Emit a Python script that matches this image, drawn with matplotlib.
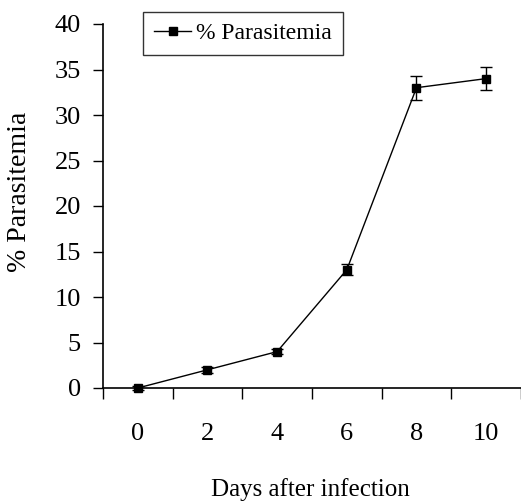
import numpy as np
import matplotlib.pyplot as plt

# Days after infection and mean parasitemia (%) with error
days = [0, 2, 4, 6, 8, 10]
parasitemia = [0.0, 2.0, 4.0, 13.0, 33.0, 34.0]
errors = [0.2, 0.3, 0.3, 0.6, 1.3, 1.3]
y_ticks = [0, 5, 10, 15, 20, 25, 30, 35, 40]

plt.rcParams['font.family'] = ['Liberation Serif', 'DejaVu Serif']

fig = plt.figure(figsize=(5.21, 5.01), dpi=100)
ax = fig.add_axes([103 / 521, 1 - 388 / 501, 418 / 521, 364 / 501])

x = np.arange(len(days))
ax.errorbar(x, parasitemia, yerr=errors, color='black', lw=1, fmt='none',
            capsize=4.3, elinewidth=1, capthick=1, clip_on=False, zorder=3)
ax.plot(x, parasitemia, color='black', lw=1, marker='s', markersize=6,
        label='% Parasitemia', clip_on=False, zorder=4)

# category axis: ticks between categories, labels in the middle
ax.set_xlim(-0.5, len(days) - 0.5)
ax.set_xticks(np.arange(len(days) + 1) - 0.5)
ax.set_xticklabels([])
ax.set_xticks(x, minor=True)
ax.set_xticklabels([str(d) for d in days], minor=True)
ax.tick_params(axis='x', which='major', direction='out', length=8, width=1)
ax.tick_params(axis='x', which='minor', length=0, pad=25, labelsize=19)

ax.set_ylim(0, 40)
ax.set_yticks(y_ticks)
ax.tick_params(axis='y', direction='out', length=7, width=1, pad=9, labelsize=19)

for s in ['top', 'right']:
    ax.spines[s].set_visible(False)
for s in ['left', 'bottom']:
    ax.spines[s].set_linewidth(1.2)

fig.text(20 / 521, 1 - 192 / 501, '% Parasitemia', rotation=90,
         ha='center', va='center', fontsize=20)
fig.text(310 / 521, 1 - 490 / 501, 'Days after infection',
         ha='center', va='center', fontsize=18)

leg = ax.legend(loc='upper left', bbox_to_anchor=(143 / 521, 1 - 12 / 501),
                bbox_transform=fig.transFigure, fontsize=17, frameon=True,
                fancybox=False, edgecolor='black', handlelength=1.6,
                handletextpad=0.2, borderpad=0.45, borderaxespad=0)
leg.get_frame().set_linewidth(1)

fig.savefig('out.png', dpi=100)
